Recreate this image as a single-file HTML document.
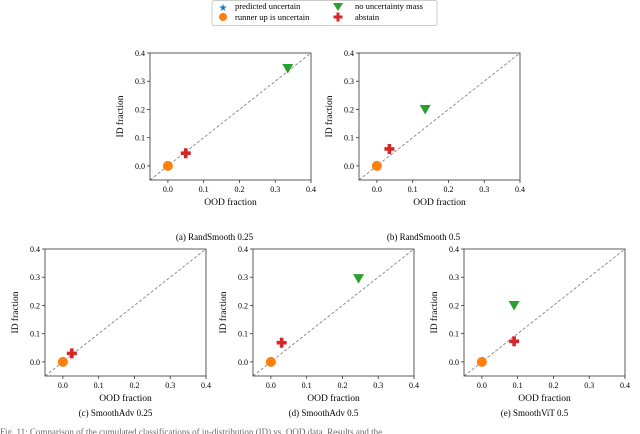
<!DOCTYPE html>
<html><head><meta charset="utf-8"><style>
body{margin:0;background:#fff;width:640px;height:434px;overflow:hidden;font-family:"Liberation Serif",serif}
svg{position:absolute;left:0;top:0}
</style></head><body>
<svg id="s" width="640" height="434" font-family="Liberation Serif, serif">
<g>
<rect x="212" y="0.5" width="225" height="25" fill="#fff" stroke="#ccc" rx="2"/>
<text x="223" y="11" font-size="10" fill="#1f77b4" text-anchor="middle">★</text>
<text x="235" y="9" font-size="8.5">predicted uncertain</text>
<circle cx="223" cy="17" r="4" fill="#ff7f0e"/>
<text x="235" y="20" font-size="8.5">runner up is uncertain</text>
<path d="M333,3 L343,3 L338,11Z" fill="#2ca02c"/>
<text x="355" y="9" font-size="8.5">no uncertainty mass</text>
<path d="M336.5,12.5h3v3h3v3h-3v3h-3v-3h-3v-3h3z" fill="#d62728"/>
<text x="355" y="20" font-size="8.5">abstain</text>
</g>
<text x="0" y="435" font-size="9" fill="#666">Fig. 11: Comparison of the cumulated classifications of in-distribution (ID) vs. OOD data. Results and the</text>
</svg>
<script>
const panelNames=["RandSmooth 0.25","RandSmooth 0.5","SmoothAdv 0.25","SmoothAdv 0.5","SmoothViT 0.5"];
const panelLetters=["a","b","c","d","e"];
const runnerX=[0,0,0,0,0];
const runnerY=[0,0,0,0,0];
const abstainX=[0.05,0.035,0.025,0.03,0.09];
const abstainY=[0.045,0.06,0.03,0.068,0.073];
const noMassX=[0.335,0.135,null,0.245,0.09];
const noMassY=[0.345,0.2,null,0.295,0.2];
const ticks=["0.0","0.1","0.2","0.3","0.4"];
const layout=[[150,53],[359,53],[45,249],[253,249],[464,249]];
const W=161,H=127;
const NS="http://www.w3.org/2000/svg",svg=document.getElementById('s');
function mk(t,a,p){const e=document.createElementNS(NS,t);for(const k in a)e.setAttribute(k,a[k]);(p||svg).appendChild(e);return e;}
panelNames.forEach((nm,i)=>{
 const [L,T]=layout[i];
 const sx=v=>L+(v+0.05)/0.45*W, sy=v=>T+H-(v+0.05)/0.45*H;
 const g=mk('g',{});
 
 
 const d=mk('line',{x1:sx(-0.05),y1:sy(-0.05),x2:sx(0.4),y2:sy(0.4),stroke:'#777','stroke-width':0.8,'stroke-dasharray':'3,2'},g);
 
 
 const r=mk('rect',{x:L,y:T,width:W,height:H,fill:'none',stroke:'#333','stroke-width':0.8},g);
 
 
 ticks.forEach(t=>{const v=parseFloat(t);
  mk('line',{x1:sx(v),x2:sx(v),y1:T+H,y2:T+H+3,stroke:'#333','stroke-width':0.8},g);
  const tx=mk('text',{x:sx(v),y:T+H+12,'font-size':8,'text-anchor':'middle'},g);tx.textContent=t;
  
  
  mk('line',{x1:L-3,x2:L,y1:sy(v),y2:sy(v),stroke:'#333','stroke-width':0.8},g);
  const ty=mk('text',{x:L-5,y:sy(v)+3,'font-size':8,'text-anchor':'end'},g);ty.textContent=t;
  
  
 });
 const xl=mk('text',{x:L+W/2,y:T+H+25,'font-size':9.5,'text-anchor':'middle'},g);xl.textContent='OOD fraction';
 
 
 const yl=mk('text',{x:0,y:0,'font-size':9.5,'text-anchor':'middle',transform:`translate(${L-27},${T+H/2}) rotate(-90)`},g);yl.textContent='ID fraction';
 
 
 const cp=mk('text',{x:L+W/2+(i<2?-16:-10),y:T+H+(i<2?60:40),'font-size':9,'text-anchor':'middle'},g);cp.textContent='('+panelLetters[i]+') '+nm;
 
 
 const c=mk('circle',{cx:sx(runnerX[i]),cy:sy(runnerY[i]),r:5,fill:'#ff7f0e'},g);
 
 
 const ax=sx(abstainX[i]),ay=sy(abstainY[i]);
 const p=mk('path',{d:`M${ax-1.8},${ay-5}h3.6v3.2h3.2v3.6h-3.2v3.2h-3.6v-3.2h-3.2v-3.6h3.2z`,fill:'#d62728'},g);
 
 
 if(noMassX[i]!==null){const nx=sx(noMassX[i]),ny=sy(noMassY[i]);
  const tr=mk('path',{d:`M${nx-5.5},${ny-4.5}L${nx+5.5},${ny-4.5}L${nx},${ny+5}Z`,fill:'#2ca02c'},g);
  
  }
});
</script>
</body></html>
